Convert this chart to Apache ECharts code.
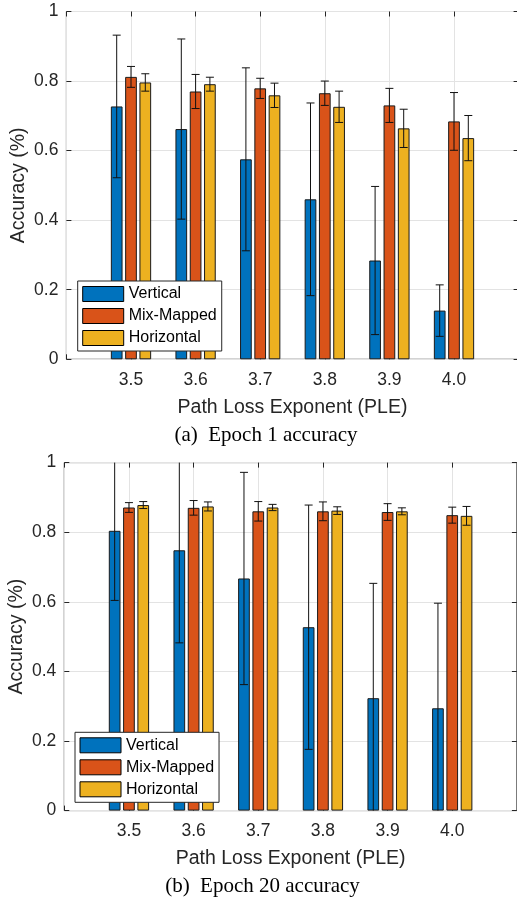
<!DOCTYPE html>
<html>
<head>
<meta charset="utf-8">
<script src="https://cdn.jsdelivr.net/npm/echarts@6/dist/echarts.min.js"></script>
<style>
html,body{margin:0;padding:0;background:#fff;}
#chart{width:517px;height:900px;}
</style>
</head>
<body>
<div id="chart"></div>
<script>
const categories = ['3.5', '3.6', '3.7', '3.8', '3.9', '4.0'];
const seriesNames = ['Vertical', 'Mix-Mapped', 'Horizontal'];
const yTicks = [0, 0.2, 0.4, 0.6, 0.8, 1];

const epoch1Vertical = [0.727, 0.662, 0.575, 0.460, 0.284, 0.140];
const epoch1VerticalErr = [0.205, 0.259, 0.263, 0.277, 0.213, 0.074];
const epoch1Mix = [0.812, 0.770, 0.779, 0.765, 0.730, 0.684];
const epoch1MixErr = [0.030, 0.049, 0.029, 0.035, 0.049, 0.083];
const epoch1Horiz = [0.796, 0.791, 0.759, 0.726, 0.664, 0.636];
const epoch1HorizErr = [0.025, 0.020, 0.035, 0.045, 0.055, 0.065];

const epoch20Vertical = [0.804, 0.748, 0.667, 0.527, 0.323, 0.294];
const epoch20VerticalErr = [0.200, 0.266, 0.305, 0.351, 0.330, 0.302];
const epoch20Mix = [0.871, 0.870, 0.860, 0.860, 0.858, 0.849];
const epoch20MixErr = [0.014, 0.021, 0.028, 0.027, 0.024, 0.023];
const epoch20Horiz = [0.878, 0.874, 0.871, 0.862, 0.860, 0.847];
const epoch20HorizErr = [0.010, 0.013, 0.009, 0.011, 0.010, 0.027];

const captions = ['(a)  Epoch 1 accuracy', '(b)  Epoch 20 accuracy'];
const xTitle = 'Path Loss Exponent (PLE)';
const yTitle = 'Accuracy (%)';

const colors = ['#0072BD', '#D95319', '#EDB120'];
const FONT = 'Liberation Sans, Arial, sans-serif';
const AX = '#262626';
const GRIDC = '#e3e3e3';
const BAR_W = 11.7;
const BAR_GAP = 0.222;
const CAP = 4;

const panels = [
  { vals: [epoch1Vertical, epoch1Mix, epoch1Horiz], errs: [epoch1VerticalErr, epoch1MixErr, epoch1HorizErr],
    grid: { left: 66.4, top: 11.5, width: 452.2, height: 347.8 }, legend: { left: 77.7, top: 281 }, caption: { x: 266, y: 435 } },
  { vals: [epoch20Vertical, epoch20Mix, epoch20Horiz], errs: [epoch20VerticalErr, epoch20MixErr, epoch20HorizErr],
    grid: { left: 64.3, top: 462.6, width: 452.6, height: 348 }, legend: { left: 75, top: 732.3 }, caption: { x: 262.5, y: 886 } }
];

const padded = [''].concat(categories, ['']);

const grids = [], xAxes = [], yAxes = [], series = [], legends = [], graphics = [];

panels.forEach((p, pi) => {
  grids.push(Object.assign({ show: true, borderColor: AX, borderWidth: 1, backgroundColor: '#fff', containLabel: false, outerBoundsMode: 'none' }, p.grid));
  const common = { type: 'category', gridIndex: pi, data: padded, boundaryGap: false };
  xAxes.push(Object.assign({}, common, {
    position: 'bottom',
    axisLine: { show: false, onZero: false },
    axisTick: { show: true, inside: true, length: 5, interval: 0, lineStyle: { color: AX } },
    axisLabel: { show: true, interval: 0, fontSize: 17.5, color: AX, fontFamily: FONT, margin: 12 },
    splitLine: { show: true, interval: 0, lineStyle: { color: GRIDC, width: 1 } },
    name: xTitle, nameLocation: 'middle', nameGap: 38,
    nameTextStyle: { fontSize: 19.5, color: AX, fontFamily: FONT }
  }));
  xAxes.push(Object.assign({}, common, {
    position: 'top',
    axisLine: { show: false, onZero: false },
    axisTick: { show: true, inside: true, length: 5, interval: 0, lineStyle: { color: AX } },
    axisLabel: { show: false }, splitLine: { show: false }
  }));
  const ycommon = { type: 'value', gridIndex: pi, min: yTicks[0], max: yTicks[yTicks.length - 1], interval: yTicks[1] - yTicks[0] };
  yAxes.push(Object.assign({}, ycommon, {
    position: 'left',
    axisLine: { show: false, onZero: false },
    axisTick: { show: true, inside: true, length: 5, lineStyle: { color: AX } },
    axisLabel: { show: true, fontSize: 17.5, color: AX, fontFamily: FONT, margin: 8 },
    splitLine: { show: true, lineStyle: { color: GRIDC, width: 1 } },
    name: yTitle, nameLocation: 'middle', nameGap: 38, nameMoveOverlap: false,
    nameTextStyle: { fontSize: 19.5, color: AX, fontFamily: FONT }
  }));
  yAxes.push(Object.assign({}, ycommon, {
    position: 'right',
    axisLine: { show: false, onZero: false },
    axisTick: { show: true, inside: true, length: 5, lineStyle: { color: AX } },
    axisLabel: { show: false }, splitLine: { show: false }
  }));

  seriesNames.forEach((name, si) => {
    series.push({
      type: 'bar', name: name, xAxisIndex: 2 * pi, yAxisIndex: 2 * pi,
      data: ['-'].concat(p.vals[si], ['-']),
      barWidth: BAR_W, barGap: (BAR_GAP * 100) + '%',
      itemStyle: { color: colors[si], borderColor: '#1a1a1a', borderWidth: 1 },
      emphasis: { disabled: true }, animation: false, z: 2
    });
  });
  seriesNames.forEach((name, si) => {
    const offset = (si - 1) * BAR_W * (1 + BAR_GAP);
    series.push({
      type: 'custom', name: 'err-' + name + '-' + pi, xAxisIndex: 2 * pi, yAxisIndex: 2 * pi,
      data: categories.map((c, i) => [i + 1, p.vals[si][i], p.errs[si][i]]),
      encode: { x: 0, y: 1 },
      animation: false, z: 5, silent: true,
      renderItem: function (params, api) {
        const xi = api.value(0), m = api.value(1), e = api.value(2);
        const cs = params.coordSys;
        const px = api.coord([xi, m])[0] + offset;
        const yHi = api.coord([xi, m + e])[1];
        const yLo = api.coord([xi, m - e])[1];
        const top = cs.y, bot = cs.y + cs.height;
        const y1 = Math.max(yHi, top), y2 = Math.min(yLo, bot);
        const st = { stroke: '#111', lineWidth: 1 };
        const ch = [{ type: 'line', shape: { x1: px, y1: y1, x2: px, y2: y2 }, style: st }];
        if (yHi >= top) ch.push({ type: 'line', shape: { x1: px - CAP, y1: yHi, x2: px + CAP, y2: yHi }, style: st });
        if (yLo <= bot) ch.push({ type: 'line', shape: { x1: px - CAP, y1: yLo, x2: px + CAP, y2: yLo }, style: st });
        return { type: 'group', children: ch };
      }
    });
  });

  legends.push({
    data: seriesNames, orient: 'vertical', left: p.legend.left, top: p.legend.top,
    itemWidth: 41, itemHeight: 15, itemGap: 6, padding: [5, 5, 5, 4.5],
    backgroundColor: '#fff', borderColor: AX, borderWidth: 1,
    icon: 'rect', selectedMode: false,
    itemStyle: { borderColor: '#000', borderWidth: 1 },
    textStyle: { fontSize: 16, color: '#000', fontFamily: FONT, lineHeight: 15 }
  });

  graphics.push({
    type: 'text', x: p.caption.x, y: p.caption.y,
    style: { text: captions[pi], font: '21px "Liberation Serif", "Times New Roman", serif', fill: '#000', textAlign: 'center', textVerticalAlign: 'middle' }
  });
});

const chart = echarts.init(document.getElementById('chart'), null, { renderer: 'canvas' });
chart.setOption({
  backgroundColor: '#fff',
  animation: false,
  textStyle: { fontFamily: FONT },
  grid: grids, xAxis: xAxes, yAxis: yAxes, series: series, legend: legends, graphic: graphics
});
</script>
</body>
</html>
